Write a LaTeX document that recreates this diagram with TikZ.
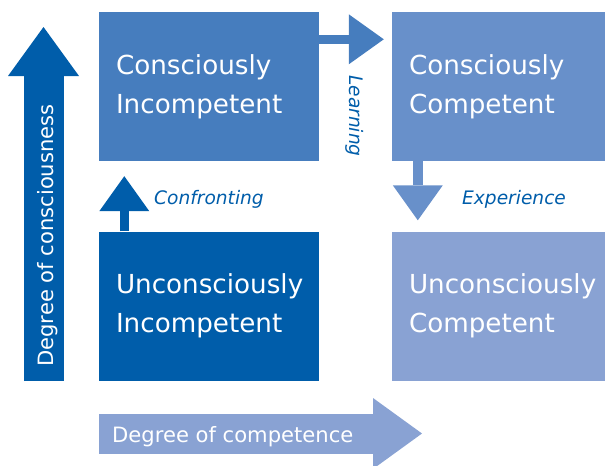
\documentclass[tikz,border=0pt]{standalone}
\usepackage{fontspec}
\setmainfont{DejaVu Sans}
\usetikzlibrary{arrows.meta,positioning}

\definecolor{deepblue}{RGB}{0,93,170}
\definecolor{midblue}{RGB}{70,125,190}
\definecolor{softblue}{RGB}{104,144,202}
\definecolor{paleblue}{RGB}{137,162,211}

\begin{document}
\begin{tikzpicture}[x=1pt,y=-1pt,
    box/.style={minimum height=149pt, inner xsep=17pt, inner ysep=0pt,
        align=left, text=white, font=\fontsize{26.2}{39}\selectfont},
    flow/.style={line width=9.5pt, -{Triangle[width=50pt,length=35pt,line width=0pt]}},
    axis/.style={line width=40pt, -{Triangle[width=71pt,length=49pt,line width=0pt]}},
    lbl/.style={inner sep=0pt, text=deepblue, font=\fontsize{18.6}{22}\selectfont\itshape},
    axislbl/.style={inner sep=0pt, text=white, font=\fontsize{21.1}{25}\selectfont}]
    \useasboundingbox (0,0) rectangle (606,466);

    % The four quadrants
    \node[box, fill=midblue, text width=186pt] (ci) at (209,86.5) {Consciously\\Incompetent};
    \node[box, fill=softblue, text width=179pt] (cc) at (498.5,86.5) {Consciously\\Competent};
    \node[box, fill=deepblue, text width=186pt] (ui) at (209,306) {Unconsciously\\Incompetent};
    \node[box, fill=paleblue, text width=179pt] (uc) at (498.5,306) {Unconsciously\\Competent};

    % Steps between the quadrants
    \draw[flow, deepblue] ([xshift=25.5pt]ui.north west) -- ([xshift=25.5pt,yshift=-15pt]ci.south west);
    \draw[flow, midblue] ([yshift=-27.5pt]ci.north east) -- ([xshift=-8pt,yshift=-27.5pt]cc.north west);
    \draw[flow, softblue] ([xshift=26pt]cc.south west) -- ([xshift=26pt,yshift=11pt]uc.north west);

    \node[lbl, anchor=base west] (confronting) at (154,204) {Confronting};
    \node[lbl, anchor=base west, rotate=-90] (learning) at (349.5,75) {Learning};
    \node[lbl, anchor=base west] (experience) at (462,204) {Experience};

    % The two axes
    \coordinate (vbase) at (43.5,381);
    \coordinate (vtip) at (43.5,27);
    \draw[axis, deepblue] (vbase) -- (vtip);
    \node[axislbl, anchor=base west, rotate=90] (consc) at (53,367) {Degree of consciousness};

    \coordinate (hbase) at (99,433.5);
    \coordinate (htip) at (422,433.5);
    \draw[axis, paleblue] (hbase) -- (htip);
    \node[axislbl, anchor=base west] (compet) at (112,442) {Degree of competence};
\end{tikzpicture}
\end{document}
